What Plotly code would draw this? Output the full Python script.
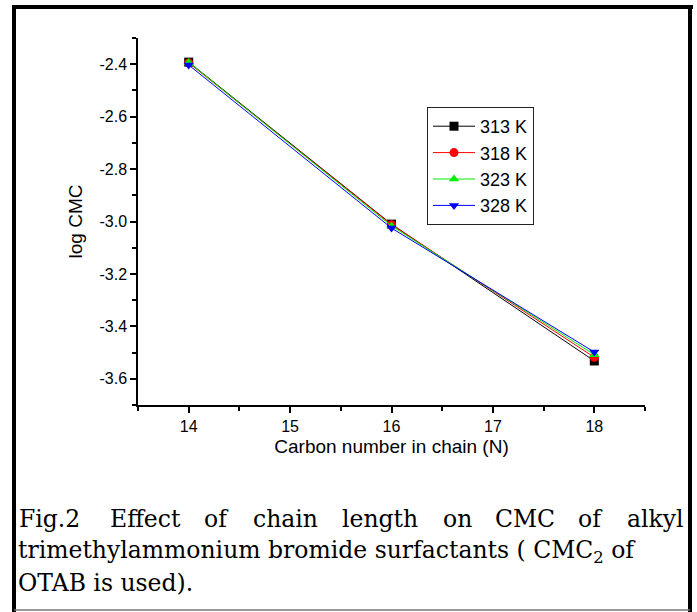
import plotly.graph_objects as go

carbon_number = [14, 16, 18]
temps = ["313 K", "318 K", "323 K", "328 K"]
log_cmc_313 = [-2.392, -3.010, -3.532]
log_cmc_318 = [-2.395, -3.012, -3.518]
log_cmc_323 = [-2.393, -3.017, -3.508]
log_cmc_328 = [-2.403, -3.025, -3.498]
series = [log_cmc_313, log_cmc_318, log_cmc_323, log_cmc_328]

y_ticks = [-2.4, -2.6, -2.8, -3.0, -3.2, -3.4, -3.6]
y_ticktext = ["-2.4", "-2.6", "-2.8", "-3.0", "-3.2", "-3.4", "-3.6"]
x_ticks = [14, 15, 16, 17, 18]

caption_line1 = ["Fig.2", "Effect", "of", "chain", "length", "on", "CMC", "of", "alkyl"]
caption_line2 = "trimethylammonium bromide surfactants ( CMC<sub>2</sub> of"
caption_line3 = "OTAB is used)."

colors = ["#000000", "#ff0000", "#00ee00", "#0000ff"]
symbols = ["square", "circle", "triangle-up", "triangle-down"]

W, H = 697, 612
L, R, T, B = 138, 645, 38, 405

def px(x):
    return (x - L) / (R - L)

def py(y):
    return (B - y) / (B - T)

fig = go.Figure()
for name, vals, c, s in zip(temps, series, colors, symbols):
    fig.add_trace(go.Scatter(
        x=carbon_number, y=vals, name=name, mode="lines+markers",
        line=dict(color=c, width=1),
        marker=dict(symbol=s, size=9, color=c),
    ))

sans = "Liberation Sans, Arial"
axis_font = dict(family=sans, size=16, color="black")
title_font = dict(family=sans, size=19, color="black")

fig.update_layout(
    width=W, height=H,
    margin=dict(l=L, r=W - R, t=T, b=H - B),
    paper_bgcolor="white", plot_bgcolor="white",
    showlegend=True,
    legend=dict(
        x=px(427), y=py(107), xanchor="left", yanchor="top",
        bordercolor="#222222", borderwidth=1, bgcolor="white",
        font=dict(family=sans, size=18, color="black"),
        itemwidth=42, tracegroupgap=0,
    ),
    xaxis=dict(
        range=[13.5, 18.5], tickvals=x_ticks, ticks="outside", ticklen=6,
        tickwidth=1.5, tickcolor="black", showline=True, linecolor="black",
        linewidth=1.5, showgrid=False, zeroline=False, tickfont=axis_font,
        minor=dict(dtick=0.5, ticks="outside", ticklen=4, tickwidth=1.5, tickcolor="black"),
        title=dict(text="Carbon number in chain (N)", font=title_font, standoff=6),
    ),
    yaxis=dict(
        range=[-3.7, -2.3], tickvals=y_ticks, ticktext=y_ticktext, ticks="outside",
        ticklen=6, tickwidth=1.5, tickcolor="black", showline=True, linecolor="black",
        linewidth=1.5, showgrid=False, zeroline=False, tickfont=axis_font,
        minor=dict(dtick=0.1, ticks="outside", ticklen=4, tickwidth=1.5, tickcolor="black"),
        title=dict(text="log CMC", font=title_font, standoff=12),
    ),
)

# Outer frame
fig.add_shape(type="line", xref="paper", yref="paper", x0=px(14), x1=px(14), y0=py(5), y1=py(612),
              line=dict(color="black", width=4))
fig.add_shape(type="line", xref="paper", yref="paper", x0=px(12), x1=px(693), y0=py(7), y1=py(7),
              line=dict(color="black", width=4))
fig.add_shape(type="line", xref="paper", yref="paper", x0=px(690), x1=px(690), y0=py(5), y1=py(612),
              line=dict(color="black", width=4))
fig.add_shape(type="line", xref="paper", yref="paper", x0=px(14), x1=px(690), y0=py(610), y1=py(610),
              line=dict(color="#777777", width=1.5))

cap_font = dict(family="DejaVu Serif, Liberation Serif", size=23.5, color="black")
line1_pos = [17, 145, 216, 285, 380, 457, 525, 590, 686]
n_words = len(caption_line1)
for i, (word, xc) in enumerate(zip(caption_line1, line1_pos)):
    anchor = "left" if i == 0 else ("right" if i == n_words - 1 else "center")
    fig.add_annotation(text=word, xref="paper", yref="paper", x=px(xc), y=py(519),
                       xanchor=anchor, yanchor="middle", showarrow=False, font=cap_font)
fig.add_annotation(text=caption_line2, xref="paper", yref="paper", x=px(16), y=py(551),
                   xanchor="left", yanchor="middle", showarrow=False, font=cap_font)
fig.add_annotation(text=caption_line3, xref="paper", yref="paper", x=px(16), y=py(583),
                   xanchor="left", yanchor="middle", showarrow=False, font=cap_font)

fig.write_html("out.html", config={"displayModeBar": False},
               post_script="document.body.style.margin='0';document.body.style.overflow='hidden';")
